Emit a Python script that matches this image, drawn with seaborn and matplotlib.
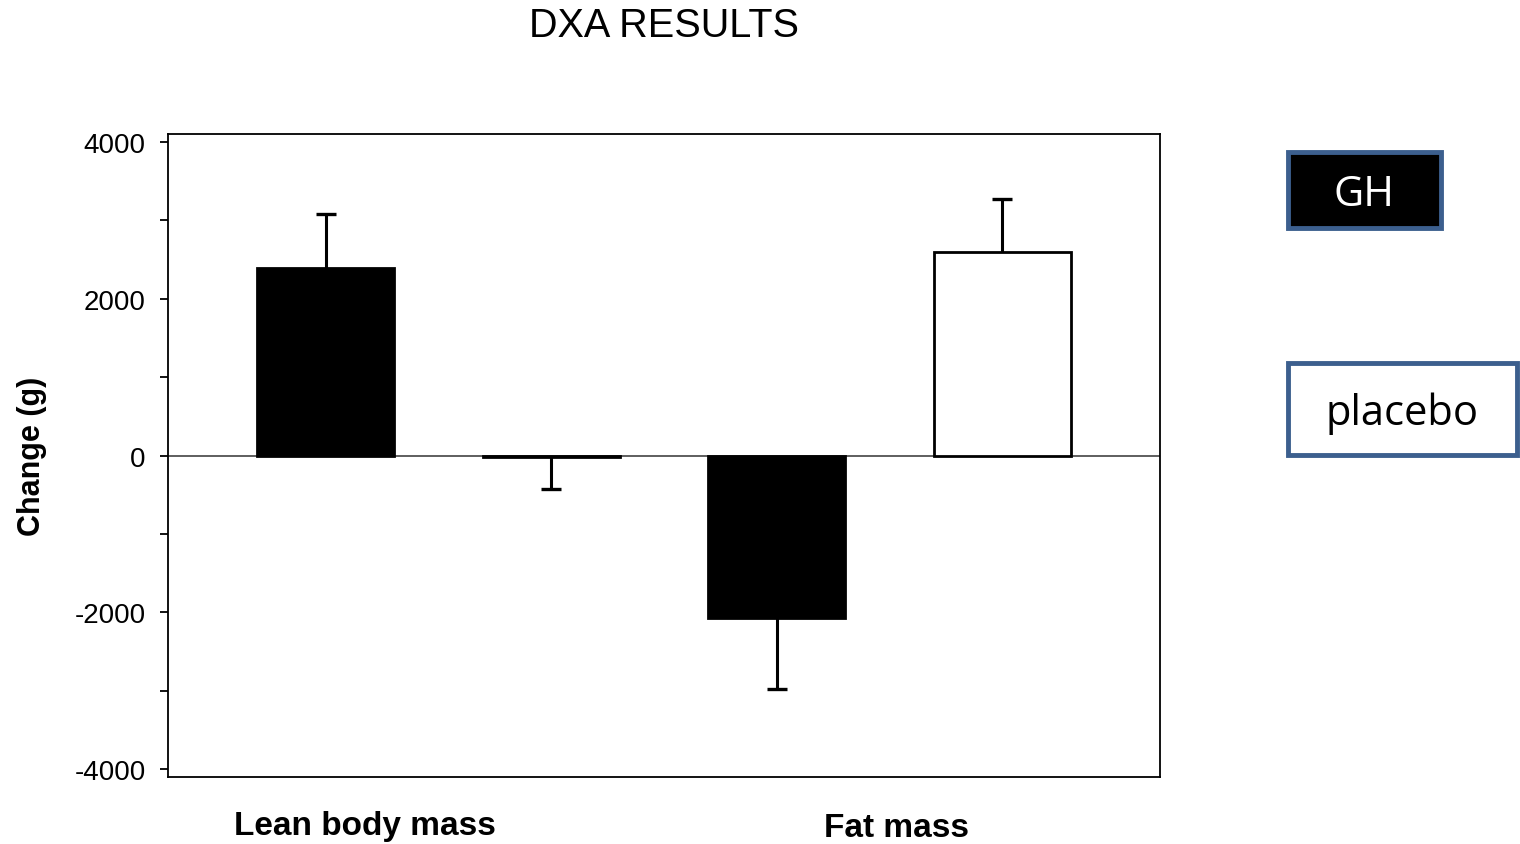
import numpy as np
import pandas as pd
import matplotlib
matplotlib.use("Agg")
import matplotlib.pyplot as plt
from matplotlib.patches import Rectangle
from matplotlib.ticker import MultipleLocator
import seaborn as sns

# data
measures = ["Lean body mass", "Fat mass"]
treatments = ["GH", "placebo"]
lean_change = [2390, -20]
fat_change = [-2070, 2595]
lean_sem = [690, 410]
fat_sem = [910, 675]
bar_colors = {"GH": "black", "placebo": "white"}

sns.set_style("ticks")
plt.rcParams["font.family"] = ["Liberation Sans", "DejaVu Sans"]
plt.rcParams["axes.unicode_minus"] = False
plt.rcParams["text.color"] = "black"
plt.rcParams["axes.labelcolor"] = "black"
plt.rcParams["ytick.color"] = "black"

# one row per bar, in plotting order
rows = []
for m, ch, se in zip(measures, [lean_change, fat_change], [lean_sem, fat_sem]):
    for t, v, e in zip(treatments, ch, se):
        rows.append({"measure": m, "treatment": t, "change": v, "sem": e,
                     "bar": f"{m} {t}"})
df = pd.DataFrame(rows)

fig = plt.figure(figsize=(15.2, 8.45), dpi=100)
ax = fig.add_axes([0.1105, 0.0793, 0.6526, 0.7609])

sns.barplot(data=df, x="bar", y="change", hue="treatment",
            palette=bar_colors, dodge=False, legend=False, width=0.607,
            edgecolor="black", linewidth=2, ax=ax, zorder=3)

# one-sided error bars pointing away from zero (no cap on the bar side)
xs = np.arange(len(df))
ends = df["change"] + np.sign(df["change"]) * df["sem"]
ax.vlines(xs, df["change"], ends, color="black", lw=2.2, zorder=2)
ax.plot(xs, ends, ls="none", marker="_", markersize=15, mew=2.4,
        color="black", zorder=2)

ax.axhline(0, color="#333333", lw=1.1, zorder=1)

ax.set_xlim(-0.70, 3.70)
ax.set_ylim(-4100, 4100)
ax.yaxis.set_major_locator(MultipleLocator(2000))
ax.yaxis.set_minor_locator(MultipleLocator(1000))
ax.tick_params(axis="y", which="both", direction="out", length=6, width=1.3,
               labelsize=20, pad=10)
ax.tick_params(axis="x", bottom=False, labelbottom=False)
ax.set_xlabel("")
ax.set_ylabel("Change (g)", fontsize=22, fontweight="bold", labelpad=20)
for s in ax.spines.values():
    s.set_visible(True)
    s.set_linewidth(1.3)
    s.set_color("black")

# group labels under the axis
label_x = [0.2401, 0.5895]
label_y = [0.0118, 0.0095]
for m, lx, ly in zip(measures, label_x, label_y):
    fig.text(lx, ly, m, ha="center", va="baseline", fontsize=24, fontweight="bold")

fig.text(0.4368, 0.969, "DXA RESULTS", ha="center", va="center", fontsize=28.5)

# legend boxes on the right
box_edge = "#3C5F8E"
fig.patches.append(Rectangle((0.8474, 0.729), 0.1006, 0.0899, transform=fig.transFigure,
                             facecolor="black", edgecolor=box_edge, lw=3.5))
fig.patches.append(Rectangle((0.8474, 0.4604), 0.1506, 0.1088, transform=fig.transFigure,
                             facecolor="white", edgecolor=box_edge, lw=3.5))
fig.text(0.8974, 0.769, treatments[0], ha="center", va="center", fontsize=30,
         color="white", family=["Open Sans", "DejaVu Sans"])
fig.text(0.9224, 0.5098, treatments[1], ha="center", va="center", fontsize=30,
         color="black", family=["Open Sans", "DejaVu Sans"])

fig.savefig("out.png", dpi=100)
